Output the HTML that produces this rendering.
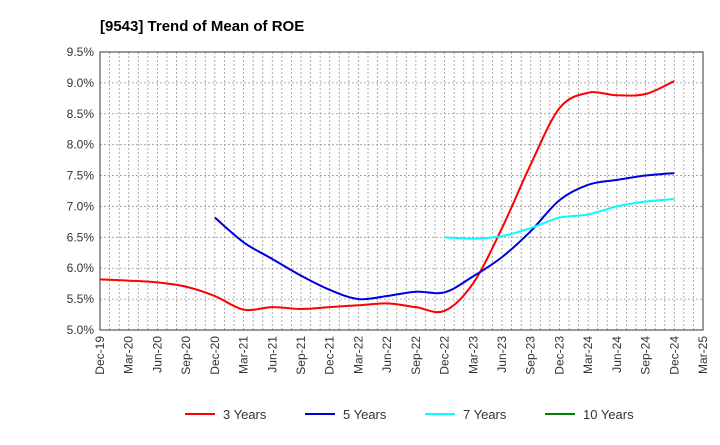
<!DOCTYPE html>
<html><head><meta charset="utf-8"><style>
body{margin:0;background:#fff;font-family:"Liberation Sans",sans-serif}
</style></head><body>
<svg id="c" width="720" height="440" xmlns="http://www.w3.org/2000/svg">
<text x="100" y="31" font-size="15" font-weight="bold" fill="#000">[9543]  Trend of Mean of ROE</text>
<g id="grid"></g><g id="axes"></g><g id="series"></g><g id="legend"></g>
</svg>
<script>
const xLabels=["Dec-19","Mar-20","Jun-20","Sep-20","Dec-20","Mar-21","Jun-21","Sep-21","Dec-21","Mar-22","Jun-22","Sep-22","Dec-22","Mar-23","Jun-23","Sep-23","Dec-23","Mar-24","Jun-24","Sep-24","Dec-24","Mar-25"];
const yTicks=[5.0,5.5,6.0,6.5,7.0,7.5,8.0,8.5,9.0,9.5];
const s3=[5.82,5.80,5.77,5.70,5.55,5.33,5.37,5.34,5.37,5.40,5.43,5.37,5.31,5.76,6.65,7.68,8.59,8.84,8.80,8.82,9.03];
const s5=[null,null,null,null,6.82,6.42,6.15,5.88,5.65,5.50,5.55,5.62,5.61,5.87,6.18,6.60,7.10,7.35,7.43,7.50,7.54];
const s7=[null,null,null,null,null,null,null,null,null,null,null,null,6.50,6.48,6.52,6.65,6.82,6.87,7.00,7.08,7.12];
const s10=[];
const L=100,R=703,T=52,B=330,NS="http://www.w3.org/2000/svg";
const xS=i=>L+i*(R-L)/(xLabels.length-1);
const yS=v=>B-(v-5)/(4.5)*(B-T);
function mk(t,a,p){const e=document.createElementNS(NS,t);for(const k in a)e.setAttribute(k,a[k]);p.appendChild(e);return e;}
const grid=document.getElementById('grid'),axes=document.getElementById('axes');
for(let m=1;m<(xLabels.length-1)*3;m++){const x=L+m*(R-L)/((xLabels.length-1)*3);
const g=mk('line',{x1:x,x2:x,y1:T,y2:B,stroke:'#999','stroke-dasharray':'2,2','stroke-width':0.8},grid);
}
yTicks.forEach(v=>{const y=yS(v);
const g=mk('line',{x1:L,x2:R,y1:y,y2:y,stroke:'#999','stroke-dasharray':'2,2','stroke-width':0.8},grid);

const t=mk('text',{x:L-6,y:y+4,'text-anchor':'end','font-size':12,fill:'#333'},axes);t.textContent=v.toFixed(1)+'%';
});
xLabels.forEach((l,i)=>{const x=xS(i);
const t=mk('text',{x:x+4,y:B+6,'text-anchor':'end','font-size':12,fill:'#333',transform:`rotate(-90 ${x+4} ${B+6})`},axes);t.textContent=l;
});
const fr=mk('rect',{x:L,y:T,width:R-L,height:B-T,fill:'none',stroke:'#333'},axes);

function path(arr){const pts=[];arr.forEach((v,i)=>{if(v!=null)pts.push([xS(i),yS(v)]);});
if(!pts.length)return '';let d=`M${pts[0][0]},${pts[0][1]}`;
for(let i=0;i<pts.length-1;i++){const p0=pts[i-1]||pts[i],p1=pts[i],p2=pts[i+1],p3=pts[i+2]||p2;
d+=`C${p1[0]+(p2[0]-p0[0])/6},${p1[1]+(p2[1]-p0[1])/6} ${p2[0]-(p3[0]-p1[0])/6},${p2[1]-(p3[1]-p1[1])/6} ${p2[0]},${p2[1]}`;}return d;}
const ser=document.getElementById('series');
[[s3,'#ff0000','line-3-years'],[s5,'#0000dd','line-5-years'],[s7,'#00ffff','line-7-years'],[s10,'#008000','line-10-years']].forEach(([a,c,n])=>{
const d=path(a);if(!d)return;const p=mk('path',{d:d,fill:'none',stroke:c,'stroke-width':2},ser);
});
const lg=document.getElementById('legend');
[['3 Years','#ff0000',185],['5 Years','#0000dd',305],['7 Years','#00ffff',425],['10 Years','#008000',545]].forEach(([t,c,x])=>{
const g=mk('g',{},lg);
mk('line',{x1:x,x2:x+30,y1:414,y2:414,stroke:c,'stroke-width':2},g);
const tx=mk('text',{x:x+38,y:419,'font-size':13,fill:'#333'},g);tx.textContent=t;});
</script>
</body></html>
